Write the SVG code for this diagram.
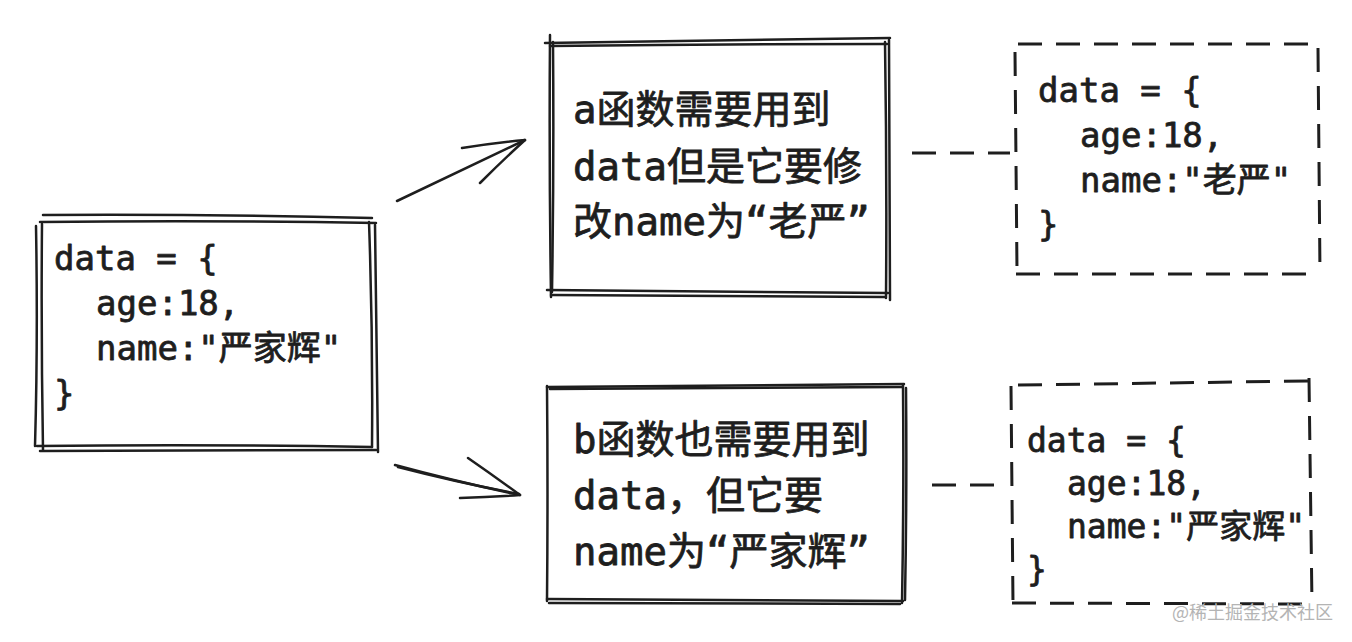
<svg xmlns="http://www.w3.org/2000/svg" width="1352" height="642" viewBox="0 0 1352 642">
<defs>
<style>
.sk{fill:none;stroke:#1e1e1e;stroke-width:2.5;stroke-linecap:round;stroke-linejoin:round}
.ds{fill:none;stroke:#1e1e1e;stroke-width:3;stroke-dasharray:24 14;stroke-linecap:butt}
.t{font-family:"DejaVu Sans Mono","Noto Sans CJK SC",monospace;font-weight:normal;fill:#1e1e1e;stroke:#1e1e1e;stroke-width:0.8;stroke-linejoin:round}
.code{font-size:34px}
.code2{font-size:33px}
.lbl{font-size:39px}
.wm{font-family:"Noto Sans CJK SC","Noto Sans",sans-serif;font-size:18px;fill:#b4b4b4}
</style>
</defs>
<rect width="1352" height="642" fill="#ffffff"/>

<g id="connectors">
<path class="sk" d="M397,201 Q460,171 525,140"/>
<path class="sk" d="M462,148 Q494,143 525,140 M480,183 Q503,160 525,140"/>
<path class="sk" d="M395,465 Q458,482 520,495"/>
<path class="sk" d="M398,467 Q460,483 519,494"/>
<path class="sk" d="M468,458 Q494,476 520,495 M460,498 Q490,497 520,495"/>
<path class="ds" d="M912,153 L1010,153"/>
<path class="ds" d="M932,485 L996,485"/>
</g>

<g id="node-data">
<path class="sk" d="M43,215 Q210,214 372,218"/>
<path class="sk" d="M40,222 Q210,220 376,223"/>
<path class="sk" d="M36,226 Q38,340 35,446"/>
<path class="sk" d="M42,224 Q41,335 43,450"/>
<path class="sk" d="M369,222 Q373,335 372,447"/>
<path class="sk" d="M375,225 Q377,340 378,452"/>
<path class="sk" d="M37,446 Q205,444 372,447"/>
<path class="sk" d="M40,451 Q210,450 376,450"/>
<text class="t code" x="54" y="270">data = {</text>
<text class="t code" x="96" y="315">age:18,</text>
<text class="t code" x="96" y="360">name:"严家辉"</text>
<text class="t code" x="54" y="405">}</text>
</g>

<g id="node-a">
<path class="sk" d="M545,43 Q715,40 890,38"/>
<path class="sk" d="M550,46 Q720,44 887,44"/>
<path class="sk" d="M550,35 Q549,165 551,297"/>
<path class="sk" d="M553,42 Q554,170 552,292"/>
<path class="sk" d="M885,42 Q887,170 886,298"/>
<path class="sk" d="M889,40 Q890,175 890,300"/>
<path class="sk" d="M547,290 Q720,291 888,293"/>
<path class="sk" d="M551,295 Q720,296 885,297"/>
<text class="t lbl" x="573" y="123">a函数需要用到</text>
<text class="t lbl" x="573" y="180">data但是它要修</text>
<text class="t lbl" x="573" y="235">改name为“老严”</text>
</g>

<g id="node-data-a">
<path class="ds" d="M1018,44 L1321,44"/>
<path class="ds" d="M1318,48 L1320,275"/>
<path class="ds" d="M1016,274 L1320,274"/>
<path class="ds" d="M1015,52 L1017,272"/>
<text class="t code" x="1038" y="102">data = {</text>
<text class="t code" x="1080" y="147">age:18,</text>
<text class="t code" x="1080" y="192">name:"老严"</text>
<text class="t code" x="1038" y="236">}</text>
</g>

<g id="node-b">
<path class="sk" d="M547,387 Q725,385 904,384"/>
<path class="sk" d="M550,389 Q725,388 902,387"/>
<path class="sk" d="M547,386 Q548,495 547,601"/>
<path class="sk" d="M903,385 Q904,495 902,603"/>
<path class="sk" d="M906,388 Q907,495 905,600"/>
<path class="sk" d="M547,599 Q725,600 903,601"/>
<path class="sk" d="M549,603 Q725,604 900,604"/>
<text class="t lbl" x="573" y="453">b函数也需要用到</text>
<text class="t lbl" x="573" y="509">data，但它要</text>
<text class="t lbl" x="573" y="565">name为“严家辉”</text>
</g>

<g id="node-data-b">
<path class="ds" d="M1018,385 L1309,381"/>
<path class="ds" d="M1309,378 L1312,605"/>
<path class="ds" d="M1012,603 L1312,604"/>
<path class="ds" d="M1011,386 L1013,605"/>
<text class="t code2" x="1027" y="452">data = {</text>
<text class="t code2" x="1067" y="495">age:18,</text>
<text class="t code2" x="1067" y="538">name:"严家辉"</text>
<text class="t code2" x="1027" y="581">}</text>
</g>

<text class="wm" x="1172" y="619">@稀土掘金技术社区</text>
</svg>
